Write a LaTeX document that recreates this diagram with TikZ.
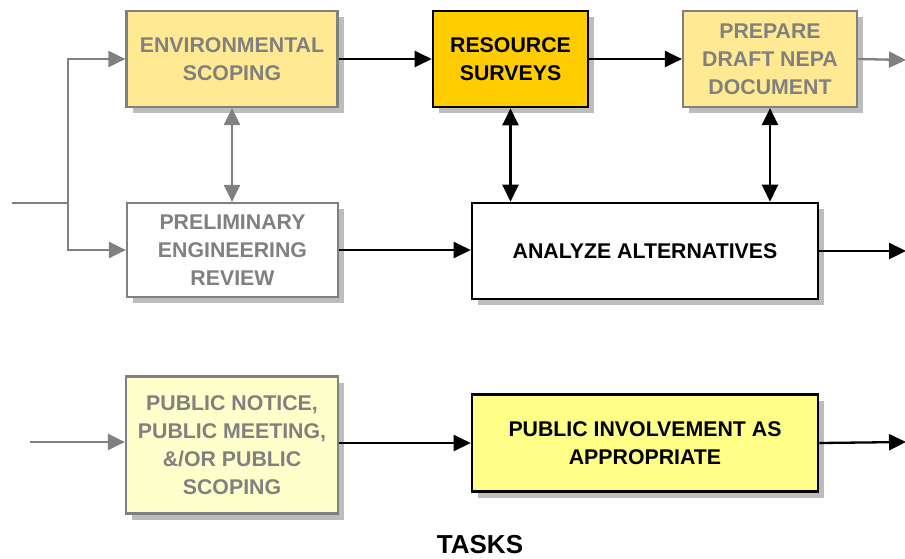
\documentclass[tikz,border=0pt]{standalone}
\usepackage{fontspec}
\setmainfont{Liberation Sans}
\usetikzlibrary{arrows.meta,shadows}
\definecolor{envfill}{HTML}{FFE993}
\definecolor{resfill}{HTML}{FFCC00}
\definecolor{pnfill}{HTML}{FFFFCC}
\definecolor{pifill}{HTML}{FFFF88}
\definecolor{bgray}{HTML}{808080}
\definecolor{shad}{HTML}{BDBDBD}
\begin{document}
\begin{tikzpicture}[x=1pt,y=-1pt,
  box/.style={rectangle, align=center, inner sep=0pt,
    font=\fontsize{21.3}{28}\selectfont\bfseries,
    drop shadow={shadow xshift=6pt, shadow yshift=-6pt, fill=shad, opacity=1}},
  graybox/.style={box, draw=bgray, line width=2.2pt, text=bgray},
  blackbox/.style={box, draw=black, line width=2.6pt, text=black},
  tip/.tip={Triangle[length=17pt,width=16pt]},
  barr/.style={draw=black, line width=2.3pt, -tip},
  bdarr/.style={draw=black, line width=2.3pt, tip-tip},
  garr/.style={draw=bgray, line width=2.3pt, -tip},
  gdarr/.style={draw=bgray, line width=2.3pt, tip-tip},
]
\useasboundingbox (0,0) rectangle (905,558);

\node[graybox, fill=envfill, minimum width=211pt, minimum height=96pt] (env) at (232,59) {ENVIRONMENTAL\\SCOPING};
\node[graybox, fill=white, minimum width=211pt, minimum height=94pt] (pre) at (232.5,250) {PRELIMINARY\\ENGINEERING\\REVIEW};
\node[blackbox, fill=resfill, minimum width=155pt, minimum height=96pt] (res) at (510.5,59) {RESOURCE\\SURVEYS};
\node[graybox, fill=envfill, minimum width=174pt, minimum height=96pt] (prep) at (770,59) {PREPARE\\DRAFT NEPA\\DOCUMENT};
\node[blackbox, fill=white, minimum width=346pt, minimum height=96pt] (ana) at (645,251) {ANALYZE ALTERNATIVES};
\node[graybox, fill=pnfill, minimum width=212pt, minimum height=137pt] (pn) at (232,445) {PUBLIC NOTICE,\\PUBLIC MEETING,\\\&/OR PUBLIC\\SCOPING};
\node[blackbox, fill=pifill, minimum width=346pt, minimum height=97pt] (pi) at (645,443) {PUBLIC INVOLVEMENT AS\\APPROPRIATE};
\node[font=\fontsize{26}{30}\selectfont\bfseries, inner sep=0pt] (tasks) at (480,545) {TASKS};

\coordinate (in1) at (12,203);
\coordinate (split) at (68,203);
\coordinate (in2) at (30,442);
\coordinate (out1) at (906,60);
\coordinate (out2) at (906,251);
\coordinate (out3) at (906,442);

\draw[draw=bgray, line width=2.3pt] (in1) -- (split);
\draw[garr] (split) |- (env.west);
\draw[garr] (split) |- (pre.west);
\draw[gdarr] (env.south) -- (env.south |- pre.north);
\draw[barr] (env.east) -- (res.west);
\draw[barr] (res.east) -- (prep.west);
\draw[garr] (prep.east) -- (out1);
\draw[bdarr] (res.south) -- (res.south |- ana.north);
\draw[bdarr] (prep.south) -- (prep.south |- ana.north);
\draw[barr] (pre.east) -- (pre.east -| ana.west);
\draw[barr] (ana.east) -- (out2);
\draw[garr] (in2) -- (pn.west |- in2);
\draw[barr] (pn.east |- pi.west) -- (pi.west);
\draw[barr] (pi.east) -- (out3);
\end{tikzpicture}
\end{document}
